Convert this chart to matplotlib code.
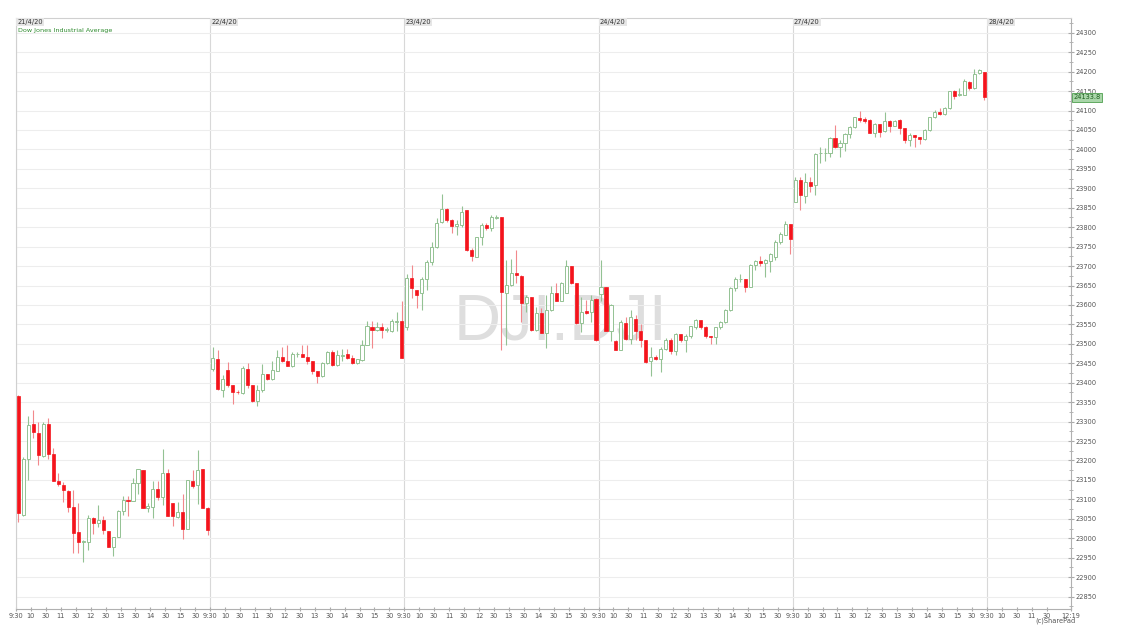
import numpy as np
import matplotlib
matplotlib.use("Agg")
import matplotlib.pyplot as plt
import matplotlib.transforms as mtransforms
from matplotlib.ticker import MultipleLocator

# 10-minute bars, (open, high, low, close), 39 per session
day1_ohlc = [
    (23366, 23368, 23043, 23064), (23061, 23208, 23058, 23205), (23205, 23315, 23150, 23291),
    (23295, 23331, 23257, 23274), (23270, 23300, 23188, 23214), (23211, 23300, 23208, 23295),
    (23295, 23308, 23204, 23217), (23217, 23231, 23147, 23147), (23147, 23169, 23134, 23139),
    (23138, 23145, 23094, 23124), (23122, 23124, 23068, 23081), (23081, 23124, 22961, 23014),
    (23016, 23090, 22961, 22991), (22990, 22995, 22940, 22993), (22991, 23060, 22970, 23053),
    (23053, 23054, 23011, 23038), (23038, 23085, 23030, 23047), (23047, 23056, 23011, 23021),
    (23019, 23019, 22978, 22978), (22978, 23004, 22954, 23004), (23004, 23072, 23002, 23070),
    (23070, 23109, 23060, 23098), (23098, 23109, 23057, 23097), (23097, 23154, 23097, 23143),
    (23143, 23177, 23115, 23177), (23175, 23175, 23077, 23077), (23077, 23090, 23068, 23084),
    (23081, 23146, 23053, 23126), (23126, 23146, 23098, 23105), (23105, 23229, 23085, 23169),
    (23169, 23177, 23057, 23057), (23091, 23091, 23032, 23057), (23055, 23093, 23053, 23067),
    (23067, 23115, 22998, 23024), (23023, 23150, 23023, 23150), (23148, 23175, 23128, 23135),
    (23137, 23227, 23087, 23175), (23177, 23177, 23079, 23079), (23077, 23081, 23008, 23021),
]
day2_ohlc = [
    (23434, 23493, 23431, 23463), (23461, 23485, 23380, 23383), (23382, 23419, 23363, 23410),
    (23433, 23453, 23389, 23393), (23393, 23393, 23344, 23376), (23377, 23380, 23372, 23375),
    (23374, 23444, 23371, 23438), (23434, 23450, 23387, 23393), (23395, 23395, 23350, 23352),
    (23352, 23393, 23339, 23380), (23380, 23449, 23376, 23423), (23423, 23423, 23407, 23410),
    (23410, 23457, 23407, 23433), (23431, 23483, 23429, 23466), (23467, 23491, 23453, 23457),
    (23455, 23498, 23443, 23443), (23443, 23480, 23440, 23474), (23473, 23480, 23467, 23475),
    (23473, 23496, 23466, 23467), (23467, 23496, 23449, 23455), (23455, 23455, 23423, 23431),
    (23431, 23431, 23400, 23417), (23416, 23453, 23414, 23451), (23451, 23481, 23449, 23479),
    (23480, 23483, 23444, 23446), (23446, 23483, 23442, 23470), (23469, 23487, 23455, 23472),
    (23473, 23487, 23461, 23464), (23464, 23470, 23449, 23451), (23451, 23461, 23449, 23460),
    (23459, 23509, 23457, 23498), (23498, 23559, 23496, 23546), (23543, 23559, 23490, 23536),
    (23536, 23557, 23533, 23543), (23543, 23554, 23516, 23536), (23535, 23543, 23531, 23538),
    (23533, 23563, 23531, 23559), (23557, 23582, 23533, 23559), (23559, 23610, 23463, 23463),
]
day3_ohlc = [
    (23544, 23680, 23536, 23669), (23669, 23703, 23617, 23643), (23639, 23639, 23591, 23626),
    (23630, 23673, 23587, 23666), (23666, 23716, 23639, 23711), (23711, 23763, 23703, 23750),
    (23750, 23823, 23746, 23812), (23814, 23885, 23812, 23846), (23846, 23849, 23814, 23819),
    (23819, 23820, 23784, 23803), (23804, 23819, 23780, 23807), (23806, 23855, 23801, 23840),
    (23843, 23843, 23740, 23741), (23741, 23746, 23713, 23726), (23724, 23776, 23723, 23774),
    (23774, 23810, 23754, 23806), (23806, 23810, 23793, 23797), (23799, 23831, 23789, 23825),
    (23824, 23831, 23820, 23826), (23825, 23827, 23484, 23634), (23630, 23716, 23497, 23651),
    (23651, 23718, 23649, 23683), (23683, 23741, 23656, 23677), (23675, 23677, 23557, 23604),
    (23604, 23626, 23583, 23620), (23620, 23621, 23534, 23536), (23536, 23594, 23532, 23579),
    (23579, 23591, 23527, 23529), (23529, 23626, 23489, 23587), (23587, 23649, 23585, 23630),
    (23630, 23656, 23609, 23611), (23611, 23660, 23609, 23656), (23632, 23716, 23630, 23700),
    (23700, 23700, 23654, 23656), (23656, 23657, 23551, 23553), (23553, 23621, 23531, 23583),
    (23584, 23613, 23578, 23580), (23581, 23626, 23557, 23613), (23615, 23617, 23506, 23510),
]
day4_ohlc = [
    (23627, 23716, 23611, 23646), (23647, 23647, 23533, 23534), (23534, 23603, 23507, 23599),
    (23507, 23509, 23483, 23485), (23485, 23560, 23483, 23556), (23553, 23569, 23509, 23513),
    (23513, 23587, 23500, 23569), (23564, 23573, 23509, 23534), (23534, 23551, 23493, 23509),
    (23509, 23510, 23451, 23453), (23455, 23491, 23416, 23466), (23467, 23470, 23459, 23461),
    (23461, 23491, 23427, 23487), (23487, 23515, 23485, 23511), (23511, 23515, 23474, 23481),
    (23481, 23527, 23470, 23526), (23524, 23526, 23504, 23509), (23509, 23524, 23479, 23521),
    (23519, 23547, 23515, 23545), (23543, 23564, 23539, 23560), (23560, 23562, 23539, 23543),
    (23543, 23545, 23515, 23519), (23519, 23521, 23500, 23518), (23517, 23543, 23500, 23543),
    (23543, 23559, 23539, 23556), (23556, 23590, 23553, 23587), (23587, 23647, 23584, 23644),
    (23643, 23671, 23637, 23667), (23666, 23680, 23659, 23668), (23667, 23667, 23633, 23647),
    (23647, 23706, 23646, 23704), (23704, 23716, 23689, 23713), (23713, 23727, 23701, 23707),
    (23707, 23719, 23673, 23716), (23714, 23733, 23684, 23731), (23723, 23767, 23716, 23761),
    (23761, 23787, 23757, 23783), (23781, 23817, 23779, 23809), (23809, 23809, 23731, 23770),
]
day5_ohlc = [
    (23866, 23930, 23866, 23921), (23921, 23930, 23843, 23883), (23880, 23940, 23861, 23917),
    (23917, 23930, 23891, 23906), (23909, 23990, 23883, 23988), (23990, 24005, 23964, 23992),
    (23990, 24003, 23969, 23992), (23990, 24031, 23981, 24029), (24029, 24063, 24003, 24005),
    (24006, 24024, 23981, 24017), (24017, 24043, 23997, 24040), (24040, 24059, 24029, 24057),
    (24057, 24084, 24054, 24083), (24080, 24100, 24071, 24076), (24077, 24084, 24069, 24074),
    (24076, 24077, 24041, 24043), (24043, 24067, 24033, 24065), (24065, 24065, 24031, 24046),
    (24047, 24097, 24046, 24073), (24073, 24076, 24046, 24060), (24061, 24076, 24059, 24073),
    (24076, 24077, 24040, 24054), (24054, 24056, 24016, 24023), (24023, 24043, 24009, 24037),
    (24037, 24037, 24007, 24033), (24033, 24033, 24013, 24027), (24027, 24052, 24024, 24050),
    (24050, 24084, 24048, 24083), (24083, 24101, 24080, 24097), (24097, 24106, 24089, 24091),
    (24092, 24110, 24089, 24106), (24106, 24150, 24104, 24149), (24149, 24153, 24129, 24137),
    (24140, 24157, 24137, 24142), (24140, 24180, 24140, 24177), (24174, 24177, 24153, 24157),
    (24157, 24206, 24155, 24194), (24196, 24206, 24194, 24204), (24200, 24200, 24127, 24133.8),
]
day_labels = ["21/4/20", "22/4/20", "23/4/20", "24/4/20", "27/4/20", "28/4/20"]
session_ticks = ["9:30", "10", "30", "11", "30", "12", "30", "13", "30", "14", "30", "15", "30"]
last_day_ticks = ["9:30", "10", "30", "11", "30"]
last_time = "12:19"
last_price = 24133.8

BARS_PER_DAY = 39
X_END = 5 * BARS_PER_DAY + 16.9   # 28/4 runs to 12:19

ohlc = np.array(day1_ohlc + day2_ohlc + day3_ohlc + day4_ohlc + day5_ohlc, dtype=float)
o, h, l, c = ohlc.T
x = np.arange(len(ohlc)) + 0.5
up = c >= o

RED = "#f4141c"
RED_WICK = "#f2888c"
GREEN = "#93c293"

fig = plt.figure(figsize=(11.22, 6.38), dpi=100)
ax = fig.add_axes([16 / 1122, 1 - 609 / 638, (1071 - 16) / 1122, (609 - 18) / 638])

# watermark behind the candles
ax.text(0.516, 0.484, "DJI.DJI", transform=ax.transAxes, ha="center", va="center",
        fontsize=47, color="#dedede", family="Liberation Sans", zorder=0)

# wicks
ax.vlines(x[up], l[up], h[up], color=GREEN, lw=0.8, zorder=2)
ax.vlines(x[~up], l[~up], h[~up], color=RED_WICK, lw=0.8, zorder=2)
# bodies
body_lo = np.minimum(o, c)
body_h = np.maximum(np.abs(c - o), 1.5)
ax.bar(x[up], body_h[up], bottom=body_lo[up], width=0.62, facecolor="white",
       edgecolor=GREEN, linewidth=0.7, zorder=3)
ax.bar(x[~up], body_h[~up], bottom=body_lo[~up], width=0.62, facecolor=RED,
       edgecolor=RED, linewidth=0.5, zorder=3)

ax.set_xlim(0, X_END)
ax.set_ylim(22818, 24338)

# grid: horizontal every 50, vertical at session starts
for d in range(6):
    ax.axvline(d * BARS_PER_DAY, color="#d8d8d8", lw=0.8, zorder=1)
ax.yaxis.tick_right()
ax.yaxis.set_major_locator(MultipleLocator(50))
ax.yaxis.set_minor_locator(MultipleLocator(25))
ax.grid(axis="y", which="major", color="#ededed", lw=0.8, zorder=0)
ax.tick_params(axis="y", which="both", direction="inout", labelsize=4.8,
               labelcolor="#555555", color="#aaaaaa", pad=1.5)
ax.tick_params(axis="y", which="major", length=4)
ax.tick_params(axis="y", which="minor", length=2.5)

xt, xl = [], []
for d in range(5):
    for i, lab in enumerate(session_ticks):
        xt.append(d * BARS_PER_DAY + 3 * i)
        xl.append(lab)
for i, lab in enumerate(last_day_ticks):
    xt.append(5 * BARS_PER_DAY + 3 * i)
    xl.append(lab)
xt.append(X_END)
xl.append(last_time)
ax.set_xticks(xt)
ax.set_xticklabels(xl)
ax.tick_params(axis="x", direction="inout", length=3, labelsize=4.8,
               labelcolor="#555555", color="#aaaaaa", pad=1.5)

for side in ["left", "top"]:
    ax.spines[side].set_color("#d0d0d0")
    ax.spines[side].set_linewidth(0.8)
for side in ["right", "bottom"]:
    ax.spines[side].set_color("#b0b0b0")
    ax.spines[side].set_linewidth(0.8)

# session date tags along the top
top = mtransforms.blended_transform_factory(ax.transData, ax.transAxes)
for d, lab in enumerate(day_labels):
    ax.text(d * BARS_PER_DAY + 0.25, 0.9975, lab, transform=top, ha="left", va="top",
            fontsize=4.8, color="#333333", zorder=5,
            bbox=dict(boxstyle="square,pad=0.15", facecolor="#e6e6e6", edgecolor="none"))

ax.text(0.4, 0.979, "Dow Jones Industrial Average", transform=top, ha="left", va="center",
        fontsize=4.6, color="#2e8b2e", zorder=5)

# last price tag on the right axis
right = mtransforms.blended_transform_factory(ax.transAxes, ax.transData)
ax.text(1.002, last_price, f"{last_price:.1f}", transform=right, ha="left", va="center",
        fontsize=4.8, color="#1f5f1f", zorder=6, clip_on=False,
        bbox=dict(boxstyle="square,pad=0.2", facecolor="#a9d6a9", edgecolor="#4f9f4f", lw=0.6))

fig.text(1055 / 1122, 1 - 621 / 638, "(c)SharePad", ha="center", va="center",
         fontsize=4.8, color="#555555")

fig.savefig("out.png", dpi=100)
